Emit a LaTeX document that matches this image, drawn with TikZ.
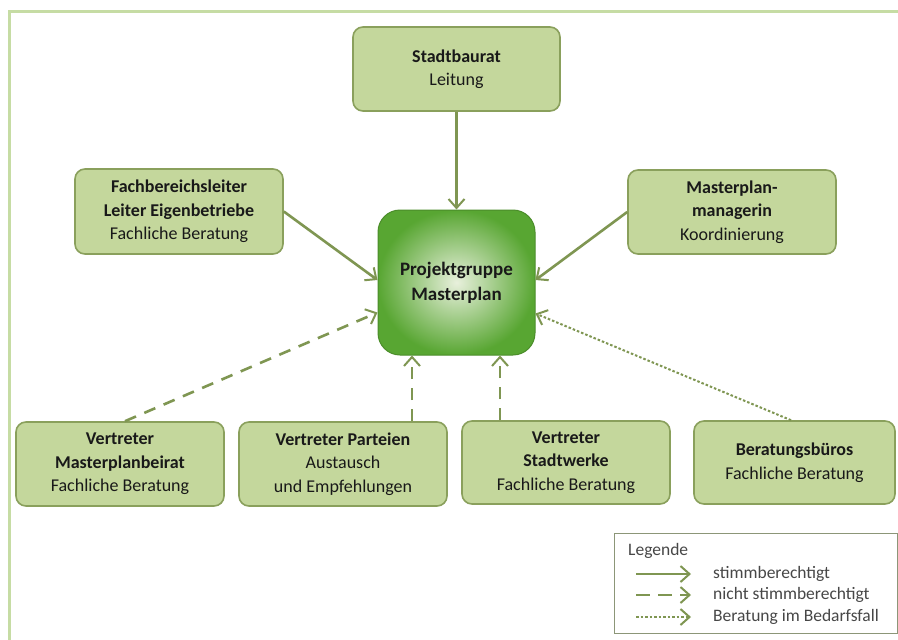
\documentclass[tikz,border=0pt]{standalone}
\usepackage{fontspec}
\setmainfont{Carlito}
\usetikzlibrary{arrows.meta}
\definecolor{framecol}{RGB}{198,220,164}
\definecolor{boxfill}{RGB}{196,215,156}
\definecolor{boxline}{RGB}{138,160,92}
\definecolor{arrcol}{RGB}{127,150,82}
\definecolor{projout}{RGB}{88,166,50}
\definecolor{projin}{RGB}{232,240,220}
\definecolor{legline}{RGB}{140,150,120}
\definecolor{txt}{RGB}{25,25,25}
\begin{document}
\begin{tikzpicture}[x=1pt,y=-1pt,
  box/.style={draw=boxline,line width=1.6pt,fill=boxfill,rounded corners=10pt,
    align=center,text=txt,font=\fontsize{18}{23.5}\selectfont,inner sep=0pt},
  conn/.style={draw=arrcol,line width=2.6pt,
    -{Straight Barb[length=9pt,width=16pt,line width=2pt]}},
  dashedconn/.style={conn,dash pattern=on 12pt off 9pt},
  dottedconn/.style={conn,line width=2pt,dash pattern=on 2.5pt off 2pt},
  legtext/.style={anchor=west,font=\fontsize{17.5}{19}\selectfont,text=black!72,inner sep=0pt}]
\clip (0,0) rectangle (898,640);
\useasboundingbox (0,0) rectangle (898,640);
\fill[white] (0,0) rectangle (898,640);
\draw[framecol,line width=3.2pt] (9.5,11.5) rectangle (920,660);

\node[box,minimum width=207pt,minimum height=84pt] (stadt) at (456.5,69)
  {\textbf{Stadtbaurat}\\Leitung};
\node[box,minimum width=208pt,minimum height=85pt] (fach) at (179,211.5)
  {\textbf{Fachbereichsleiter}\\\textbf{Leiter Eigenbetriebe}\\Fachliche Beratung};
\node[box,minimum width=208pt,minimum height=84pt] (manag) at (732,212)
  {\textbf{Masterplan-}\\\textbf{managerin}\\Koordinierung};
\node[draw=projout!85!black,line width=1pt,rounded corners=22pt,inner color=projin,outer color=projout,
  minimum width=157pt,minimum height=145pt,align=center,text=txt,
  font=\fontsize{19}{25}\selectfont\bfseries,inner sep=0pt] (proj) at (456.5,282.5)
  {Projektgruppe\\Masterplan};
\node[box,minimum width=208pt,minimum height=84pt] (beirat) at (120,464)
  {\textbf{Vertreter}\\\textbf{Masterplanbeirat}\\Fachliche Beratung};
\node[box,minimum width=208pt,minimum height=84pt] (parteien) at (343,464)
  {\textbf{Vertreter Parteien}\\Austausch\\und Empfehlungen};
\node[box,minimum width=208pt,minimum height=83pt] (werke) at (566,462.5)
  {\textbf{Vertreter}\\\textbf{Stadtwerke}\\Fachliche Beratung};
\node[box,minimum width=201pt,minimum height=83pt] (buero) at (794.5,462.5)
  {\textbf{Beratungsbüros}\\Fachliche Beratung};

\draw[conn] (stadt.south) -- (proj.north);
\draw[conn] (fach.east) -- ([yshift=2.5pt]proj.west);
\draw[conn] (manag.west) -- ([yshift=2.5pt]proj.east);
\draw[dashedconn] ([xshift=5pt]beirat.north) -- ([yshift=-30pt]proj.west);
\draw[dashedconn] ([xshift=69pt]parteien.north) -- ([xshift=-44.5pt]proj.south);
\draw[dashedconn] ([xshift=-66pt]werke.north) -- ([xshift=43.5pt]proj.south);
\draw[dottedconn] ([xshift=-3.5pt]buero.north) -- ([yshift=-31pt]proj.east);

% legend
\node[draw=legline,line width=1pt,minimum width=283pt,minimum height=100pt,inner sep=0pt] (leg) at (756,583.5) {};
\node[legtext] (legt) at (628,551) {Legende};
\coordinate (l1a) at (636,574); \coordinate (l1b) at (691,574);
\coordinate (l2a) at (636,595); \coordinate (l2b) at (691,595);
\coordinate (l3a) at (636,617); \coordinate (l3b) at (691,617);
\draw[conn] (l1a) -- (l1b);
\draw[conn,dash pattern=on 14pt off 8pt] (l2a) -- (l2b);
\draw[dottedconn] (l3a) -- (l3b);
\node[legtext] (t1) at (713,574) {stimmberechtigt};
\node[legtext] (t2) at (713,595) {nicht stimmberechtigt};
\node[legtext] (t3) at (713,617) {Beratung im Bedarfsfall};
\end{tikzpicture}
\end{document}
